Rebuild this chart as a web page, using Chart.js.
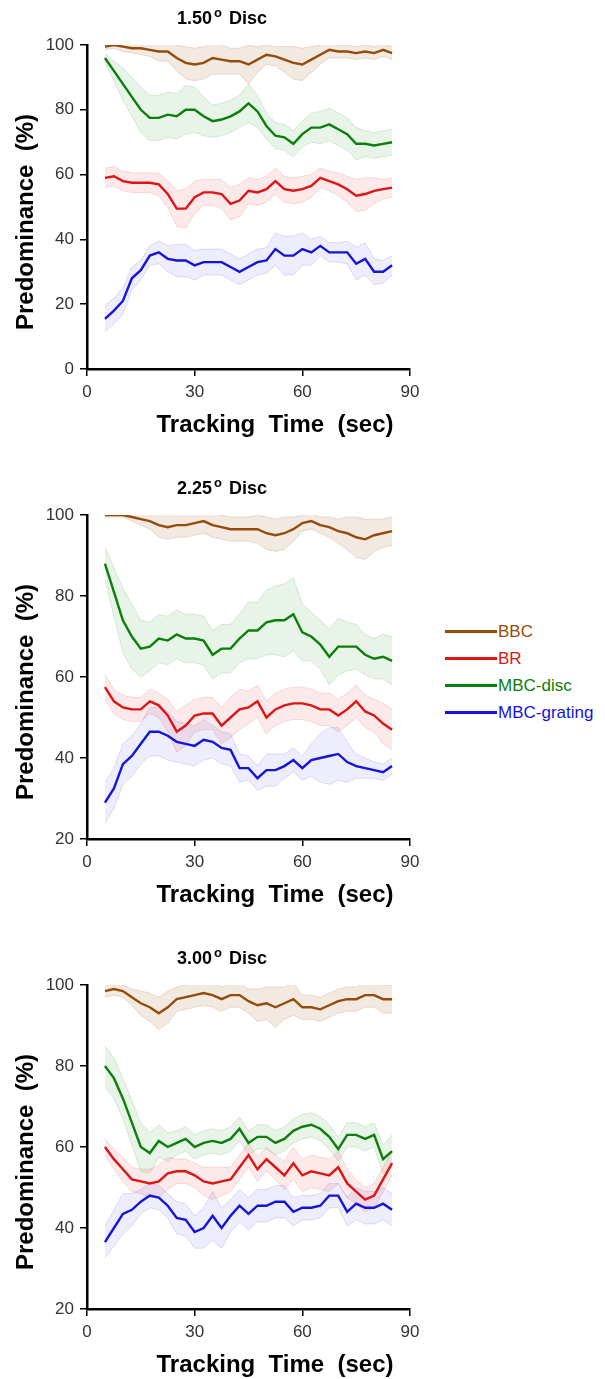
<!DOCTYPE html>
<html>
<head>
<meta charset="utf-8">
<script src="https://cdn.jsdelivr.net/npm/chart.js@4.4.0/dist/chart.umd.min.js"></script>
<style>
body { margin: 0; background: #fff; width: 605px; height: 1379px; position: relative; overflow: hidden; font-family: "Liberation Sans", Arial, sans-serif; }
.panel { position: absolute; left: 0; width: 430px; height: 470px; }
#legend { position: absolute; left: 445px; top: 618px; }
.row { height: 27px; display: flex; align-items: center; font-size: 17px; }
.ln { display: inline-block; width: 52px; height: 3.5px; margin-right: 1px; }
</style>
</head>
<body>
<div class="panel" style="top:0"><canvas id="p1"></canvas></div>
<div class="panel" style="top:470px"><canvas id="p2"></canvas></div>
<div class="panel" style="top:940px"><canvas id="p3"></canvas></div>
<div id="legend"></div>

<script>
// Время (сек)
let times = [5, 7.5, 10, 12.5, 15, 17.5, 20, 22.5, 25, 27.5, 30, 32.5, 35, 37.5, 40, 42.5, 45, 47.5, 50, 52.5, 55, 57.5, 60, 62.5, 65, 67.5, 70, 72.5, 75, 77.5, 80, 82.5, 85];
let seriesNames = ["BBC", "BR", "MBC-disc", "MBC-grating"];
let discSizes = ["1.50", "2.25", "3.00"];
let xTicks = [0, 30, 60, 90];

// 1.50 disc
let bbc150 = [99.5, 100, 99.5, 99, 99, 98.5, 98, 98, 96, 94.5, 94, 94.5, 96, 95.5, 95, 95, 94, 95.5, 97, 96.5, 95.5, 94.5, 94, 95.5, 97, 98.5, 98, 98, 97.5, 98, 97.5, 98.5, 97.5];
let br150 = [59, 59.5, 58, 57.5, 57.5, 57.5, 57, 54, 49.5, 49.5, 53, 54.5, 54.5, 54, 51, 52, 55, 54.5, 55.5, 58, 55.5, 55, 55.5, 56.5, 59, 58, 57, 55.5, 53.5, 54, 55, 55.5, 56];
let disc150 = [96, 92, 88, 84, 80, 77.5, 77.5, 78.5, 78, 80, 80, 78, 76.5, 77, 78, 79.5, 82, 79.5, 75, 72, 71.5, 69.5, 72.5, 74.5, 74.5, 75.5, 74, 72.5, 69.5, 69.5, 69, 69.5, 70];
let grat150 = [15.5, 18, 21, 28, 30.5, 35, 36, 34, 33.5, 33.5, 32, 33, 33, 33, 31.5, 30, 31.5, 33, 33.5, 37, 35, 35, 37, 36, 38, 36, 36, 36, 32.5, 34, 30, 30, 32];
let bbc150Err = [1, 1, 1.5, 1.5, 2, 2, 3, 3, 4, 5, 5, 5, 5, 4.5, 4, 4, 6, 4, 3, 3, 4, 5, 5, 4, 3, 2.5, 2, 2, 2, 2, 2, 2, 2];
let br150Err = [3, 3, 3, 3, 3, 3, 3.5, 4, 5.5, 6, 5, 4, 4, 4.5, 5, 5, 4, 4, 4, 4, 4, 4, 4, 3.5, 3, 3, 3.5, 4, 5, 5, 4, 3, 3];
let disc150Err = [1.5, 3, 5, 6, 7, 7, 7, 7, 7, 7.5, 7, 6, 5, 5, 5, 5, 6, 5, 4, 4, 4, 4, 4, 4.5, 5, 5, 5, 5, 5, 4, 4, 4, 4];
let grat150Err = [4, 4, 4, 3.5, 3, 3, 3.5, 4, 5, 5, 4.5, 4, 4, 4, 4, 4, 4, 4, 4, 5, 6, 6, 5, 4, 3, 3, 3, 3.5, 5, 5, 4, 3.5, 3];

// 2.25 disc
let bbc225 = [100, 100, 100, 99.5, 99, 98.5, 97.5, 97, 97.5, 97.5, 98, 98.5, 97.5, 97, 96.5, 96.5, 96.5, 96.5, 95.5, 95, 95.5, 96.5, 98, 98.5, 97.5, 97, 96, 95.5, 94.5, 94, 95, 95.5, 96];
let br225 = [57.5, 54, 52.5, 52, 52, 54, 53, 50.5, 46.5, 48, 50.5, 51, 51, 48, 50, 52, 52.5, 54, 50, 52, 53, 53.5, 53.5, 53, 52, 52, 50.5, 52, 54, 51.5, 50.5, 48.5, 47];
let disc225 = [88, 81, 74, 70, 67, 67.5, 69.5, 69, 70.5, 69.5, 69.5, 69, 65.5, 67, 67, 69.5, 71.5, 71.5, 73.5, 74, 74, 75.5, 71, 70, 68, 65, 67.5, 67.5, 67.5, 65.5, 64.5, 65, 64];
let grat225 = [29, 32.5, 38.5, 40.5, 43.5, 46.5, 46.5, 45.5, 44, 43.5, 43, 44.5, 44, 42.5, 42, 37.5, 37.5, 35, 37, 37, 38, 39.5, 37.5, 39.5, 40, 40.5, 41, 39, 38, 37.5, 37, 36.5, 38];
let bbc225Err = [0.5, 0.5, 0.5, 1, 1.5, 2, 3, 3, 3, 3, 3, 3, 3, 3, 3, 3, 3, 3.5, 4, 4, 4, 3, 2, 2, 2, 2.5, 3, 4, 5, 5, 4, 3.5, 3.5];
let br225Err = [3, 3, 3, 3, 3, 3, 3, 4, 5, 5, 4, 4, 4, 4.5, 5, 5, 4, 4, 4, 4, 4, 4, 4, 4, 4, 4, 4, 4, 4, 4, 4, 5, 5];
let disc225Err = [4, 6, 8, 8, 7, 6, 6, 6, 6, 6, 6, 6, 6, 6, 6, 6, 7, 7, 8, 8.5, 9, 9, 7, 6, 6, 7, 7, 6, 5.5, 5, 5, 5.5, 6];
let grat225Err = [5, 5, 5, 5, 5, 6, 6, 6, 5, 5, 5, 5, 4, 4, 4, 3.5, 3, 3, 4, 4, 3, 3, 3, 4, 6, 7, 6.5, 5, 3, 2.5, 2, 2, 2];

// 3.00 disc
let bbc300 = [98.5, 99, 98.5, 97, 95.5, 94.5, 93, 94.5, 96.5, 97, 97.5, 98, 97.5, 96.5, 97.5, 97.5, 96, 95, 95.5, 94.5, 95.5, 96.5, 94.5, 94.5, 94, 95, 96, 96.5, 96.5, 97.5, 97.5, 96.5, 96.5];
let br300 = [60, 57, 54.5, 52, 51.5, 51, 51.5, 53.5, 54, 54, 53, 51.5, 51, 51.5, 52, 55, 58, 54.5, 57, 55, 53, 56, 53, 54, 53.5, 53, 55, 51, 49, 47, 48, 52, 56];
let disc300 = [80, 77, 72, 66, 60, 58.5, 61.5, 60, 61, 62, 60, 61, 61.5, 61, 62, 64.5, 61, 62.5, 62.5, 61, 62, 64, 65, 65.5, 64.5, 62.5, 59.5, 63, 63, 62, 63, 57, 59];
let grat300 = [36.5, 40, 43.5, 44.5, 46.5, 48, 47.5, 45.5, 42.5, 42, 39, 40, 43, 40, 43, 45.5, 43.5, 45.5, 45.5, 46.5, 46.5, 44, 45, 45, 45.5, 48, 48, 44, 46, 45, 45, 46, 44.5];
let bbc300Err = [1.5, 1.5, 1.5, 2, 3, 3.5, 4, 4, 3, 3, 3, 3, 3, 3, 3, 3, 3, 4, 4, 5, 4, 4, 3, 3, 3, 3, 3, 3, 3, 3, 3, 3.5, 3.5];
let br300Err = [2, 2.5, 3, 3, 3, 3.5, 4, 4, 3, 3, 3, 3.5, 4, 3.5, 3, 3, 3, 3, 3, 3, 3.5, 4, 4, 4, 4, 4, 4, 3.5, 3, 3, 3, 3, 3];
let disc300Err = [5, 5, 5, 5.5, 6, 5, 4, 3.5, 3, 3, 3, 3, 3, 3, 3, 3, 3, 3, 3, 3, 3, 3, 3, 3, 3, 3, 3, 3, 3, 3, 3, 3.5, 4];
let grat300Err = [4, 4.5, 5, 4, 3, 3, 3, 3, 4, 4, 4, 5, 6, 5, 4, 4, 4, 4, 4, 4, 4, 3.5, 3, 3, 3, 3, 3, 3.5, 4, 4, 4, 4, 4];

// Цвета серий
let lineColors = ["rgb(150,75,10)", "rgb(225,20,20)", "rgb(10,128,10)", "rgb(20,20,220)"];
let bandColors = ["rgba(150,75,10,0.12)", "rgba(225,20,20,0.09)", "rgba(10,128,10,0.09)", "rgba(20,20,220,0.08)"];
let edgeColors = ["rgba(150,75,10,0.16)", "rgba(225,20,20,0.14)", "rgba(10,128,10,0.14)", "rgba(20,20,220,0.13)"];

// Легенда
let legend = document.getElementById("legend");
seriesNames.forEach(function (name, i) {
    legend.innerHTML += '<div class="row" style="color:' + lineColors[i] + '"><span class="ln" style="background:' + lineColors[i] + '"></span>' + name + '</div>';
});

// Подписи: заголовок и названия осей
let textPlugin = {
    id: "panelText",
    afterDraw: function (chart) {
        let c = chart.ctx;
        let size = chart.options.plugins.panelText.size;
        c.save();
        c.fillStyle = "#000";
        c.textBaseline = "alphabetic";
        // заголовок "1.50 ° Disc"
        c.font = "bold 18px 'Liberation Sans', Arial";
        let w1 = c.measureText(size).width;
        let w3 = c.measureText(" Disc").width;
        c.font = "bold 13px 'Liberation Sans', Arial";
        let w2 = c.measureText("o").width + 4;
        let x0 = 222 - (w1 + w2 + w3) / 2;
        c.font = "bold 18px 'Liberation Sans', Arial";
        c.textAlign = "left";
        c.fillText(size, x0, 24);
        c.fillText(" Disc", x0 + w1 + w2, 24);
        c.font = "bold 13px 'Liberation Sans', Arial";
        c.fillText("o", x0 + w1 + 2, 17);
        // ось X
        c.font = "bold 24px 'Liberation Sans', Arial";
        c.textAlign = "center";
        c.fillText("Tracking  Time  (sec)", 275, 432);
        // ось Y
        c.translate(33, 222);
        c.rotate(-Math.PI / 2);
        c.fillText("Predominance  (%)", 0, 0);
        c.restore();
    }
};

function makePanel(id, size, yMin, means, errs) {
    let datasets = [];
    // Средние линии
    means.forEach(function (m, i) {
        datasets.push({
            data: times.map(function (t, k) { return { x: t, y: m[k] }; }),
            borderColor: lineColors[i],
            borderWidth: 2.4,
            pointRadius: 0,
            fill: false
        });
    });
    // Полосы ошибки
    means.forEach(function (m, i) {
        datasets.push({
            data: times.map(function (t, k) { return { x: t, y: m[k] + errs[i][k] }; }),
            borderColor: edgeColors[i],
            borderWidth: 1,
            pointRadius: 0,
            fill: false
        });
        datasets.push({
            data: times.map(function (t, k) { return { x: t, y: m[k] - errs[i][k] }; }),
            borderColor: edgeColors[i],
            borderWidth: 1,
            pointRadius: 0,
            backgroundColor: bandColors[i],
            fill: "-1"
        });
    });

    let tickFont = { family: "'Liberation Sans', Arial", size: 17 };
    new Chart(document.getElementById(id), {
        type: "line",
        data: { datasets: datasets },
        options: {
            responsive: false,
            animation: false,
            devicePixelRatio: 1,
            layout: { padding: { top: 45, right: 20, left: 0, bottom: 0 } },
            plugins: {
                legend: { display: false },
                tooltip: { enabled: false },
                panelText: { size: size }
            },
            scales: {
                x: {
                    type: "linear",
                    min: 0,
                    max: 90,
                    afterBuildTicks: function (s) { s.ticks = xTicks.map(function (v) { return { value: v }; }); },
                    afterFit: function (s) { s.height = 101; },
                    ticks: { font: tickFont, color: "#333", padding: 6, maxRotation: 0 },
                    grid: { drawOnChartArea: false, tickLength: 7, color: "#000", lineWidth: 1.5 },
                    border: { color: "#000", width: 2.5 }
                },
                y: {
                    min: yMin,
                    max: 100,
                    afterFit: function (s) { s.width = 87; },
                    ticks: { stepSize: 20, font: tickFont, color: "#333", padding: 6 },
                    grid: { drawOnChartArea: false, tickLength: 7, color: "#000", lineWidth: 1.5 },
                    border: { color: "#000", width: 2.5 }
                }
            }
        },
        plugins: [textPlugin]
    });
}

function setSize(id) {
    let cv = document.getElementById(id);
    cv.width = 430;
    cv.height = 470;
}
setSize("p1"); setSize("p2"); setSize("p3");

makePanel("p1", discSizes[0], 0, [bbc150, br150, disc150, grat150], [bbc150Err, br150Err, disc150Err, grat150Err]);
makePanel("p2", discSizes[1], 20, [bbc225, br225, disc225, grat225], [bbc225Err, br225Err, disc225Err, grat225Err]);
makePanel("p3", discSizes[2], 20, [bbc300, br300, disc300, grat300], [bbc300Err, br300Err, disc300Err, grat300Err]);
</script>
</body>
</html>
